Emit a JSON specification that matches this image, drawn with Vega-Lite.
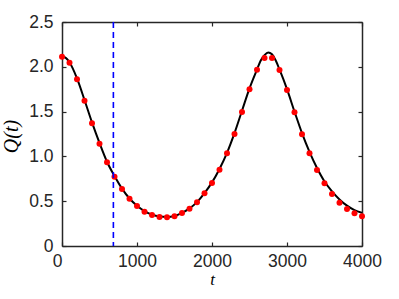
{
  "$schema": "https://vega.github.io/schema/vega-lite/v6.json",
  "autosize": {"type": "none"},
  "width": 300,
  "height": 224,
  "padding": {"left": 62, "top": 22, "right": 37, "bottom": 53},
  "background": "white",
  "config": {
    "view": {"stroke": null},
    "axis": {
      "domainColor": "#262626",
      "domainWidth": 1.5,
      "tickColor": "#262626",
      "tickWidth": 1.2,
      "tickSize": -4,
      "labelColor": "#262626",
      "labelFont": "Liberation Sans",
      "labelFontSize": 17.5,
      "labelFlush": false,
      "grid": false,
      "titleColor": "#000000",
      "titleFont": "Liberation Serif",
      "titleFontStyle": "italic",
      "titleFontWeight": "normal",
      "titleFontSize": 20
    }
  },
  "datasets": {
    "curve": [
      {"t": 0, "Q": 2.115}, {"t": 50, "Q": 2.1}, {"t": 100, "Q": 2.05}, {"t": 200, "Q": 1.87},
      {"t": 300, "Q": 1.63}, {"t": 400, "Q": 1.38}, {"t": 500, "Q": 1.15}, {"t": 600, "Q": 0.94},
      {"t": 700, "Q": 0.78}, {"t": 800, "Q": 0.64}, {"t": 900, "Q": 0.53}, {"t": 1000, "Q": 0.45},
      {"t": 1100, "Q": 0.39}, {"t": 1200, "Q": 0.35}, {"t": 1300, "Q": 0.33}, {"t": 1400, "Q": 0.325},
      {"t": 1500, "Q": 0.335}, {"t": 1600, "Q": 0.37}, {"t": 1700, "Q": 0.42}, {"t": 1800, "Q": 0.49},
      {"t": 1900, "Q": 0.59}, {"t": 2000, "Q": 0.71}, {"t": 2100, "Q": 0.86}, {"t": 2200, "Q": 1.04},
      {"t": 2300, "Q": 1.26}, {"t": 2400, "Q": 1.51}, {"t": 2500, "Q": 1.76}, {"t": 2600, "Q": 1.97},
      {"t": 2650, "Q": 2.07}, {"t": 2700, "Q": 2.13}, {"t": 2750, "Q": 2.16}, {"t": 2800, "Q": 2.14},
      {"t": 2850, "Q": 2.07}, {"t": 2900, "Q": 1.97}, {"t": 3000, "Q": 1.75}, {"t": 3100, "Q": 1.5},
      {"t": 3200, "Q": 1.26}, {"t": 3300, "Q": 1.05}, {"t": 3400, "Q": 0.87}, {"t": 3500, "Q": 0.72},
      {"t": 3600, "Q": 0.61}, {"t": 3700, "Q": 0.52}, {"t": 3800, "Q": 0.45}, {"t": 3900, "Q": 0.4},
      {"t": 4000, "Q": 0.37}
    ],
    "dots": [
      {"t": 0, "Q": 2.113}, {"t": 100, "Q": 2.046}, {"t": 200, "Q": 1.86}, {"t": 300, "Q": 1.62},
      {"t": 400, "Q": 1.37}, {"t": 500, "Q": 1.14}, {"t": 600, "Q": 0.934}, {"t": 700, "Q": 0.774},
      {"t": 800, "Q": 0.636}, {"t": 900, "Q": 0.528}, {"t": 1000, "Q": 0.446}, {"t": 1100, "Q": 0.383},
      {"t": 1200, "Q": 0.346}, {"t": 1300, "Q": 0.324}, {"t": 1400, "Q": 0.32}, {"t": 1500, "Q": 0.331},
      {"t": 1600, "Q": 0.368}, {"t": 1700, "Q": 0.416}, {"t": 1800, "Q": 0.487}, {"t": 1900, "Q": 0.588},
      {"t": 2000, "Q": 0.703}, {"t": 2100, "Q": 0.852}, {"t": 2200, "Q": 1.035}, {"t": 2300, "Q": 1.25},
      {"t": 2400, "Q": 1.496}, {"t": 2500, "Q": 1.749}, {"t": 2600, "Q": 1.968}, {"t": 2700, "Q": 2.098},
      {"t": 2800, "Q": 2.098}, {"t": 2900, "Q": 1.964}, {"t": 3000, "Q": 1.741}, {"t": 3100, "Q": 1.492},
      {"t": 3200, "Q": 1.247}, {"t": 3300, "Q": 1.035}, {"t": 3400, "Q": 0.848}, {"t": 3500, "Q": 0.7},
      {"t": 3600, "Q": 0.58}, {"t": 3700, "Q": 0.483}, {"t": 3800, "Q": 0.413}, {"t": 3900, "Q": 0.365},
      {"t": 4000, "Q": 0.331}
    ],
    "marker": [{"t": 685}]
  },
  "layer": [
    {
      "data": {"name": "curve"},
      "mark": {"type": "line", "color": "black", "strokeWidth": 2, "interpolate": "monotone", "clip": true},
      "encoding": {
        "x": {"field": "t", "type": "quantitative", "scale": {"domain": [0, 4000], "nice": false},
          "axis": {"orient": "bottom", "title": "t", "values": [0, 1000, 2000, 3000, 4000], "format": "d",
            "labelPadding": 10, "labelDx": -4,
            "labelAlign": {"condition": {"test": "datum.value == 0", "value": "right"}, "value": "center"},
            "titleFontSize": 17, "titleY": 38, "titleBaseline": "alphabetic"}},
        "y": {"field": "Q", "type": "quantitative", "scale": {"domain": [0, 2.5], "nice": false},
          "axis": {"orient": "left", "title": "Q(t)", "values": [0, 0.5, 1, 1.5, 2, 2.5],
            "labelExpr": "datum.value == 0 ? '0' : format(datum.value, '.1f')",
            "labelPadding": 13, "titleX": -51, "titleY": 114, "titleBaseline": "middle", "titleAlign": "center", "titleAngle": -90}}
      }
    },
    {
      "data": {"name": "dots"},
      "mark": {"type": "circle", "color": "#ff0000", "opacity": 1, "size": 36},
      "encoding": {
        "x": {"field": "t", "type": "quantitative", "scale": {"domain": [0, 4000], "nice": false},
          "axis": {"orient": "top", "title": null, "labels": false, "values": [0, 1000, 2000, 3000, 4000]}},
        "y": {"field": "Q", "type": "quantitative", "scale": {"domain": [0, 2.5], "nice": false},
          "axis": {"orient": "right", "title": null, "labels": false, "values": [0, 0.5, 1, 1.5, 2, 2.5]}}
      }
    },
    {
      "data": {"name": "marker"},
      "mark": {"type": "rule", "color": "#0000ff", "strokeWidth": 1.6, "strokeDash": [6, 4]},
      "encoding": {
        "x": {"field": "t", "type": "quantitative", "axis": null}
      }
    }
  ],
  "resolve": {"axis": {"x": "independent", "y": "independent"}}
}
